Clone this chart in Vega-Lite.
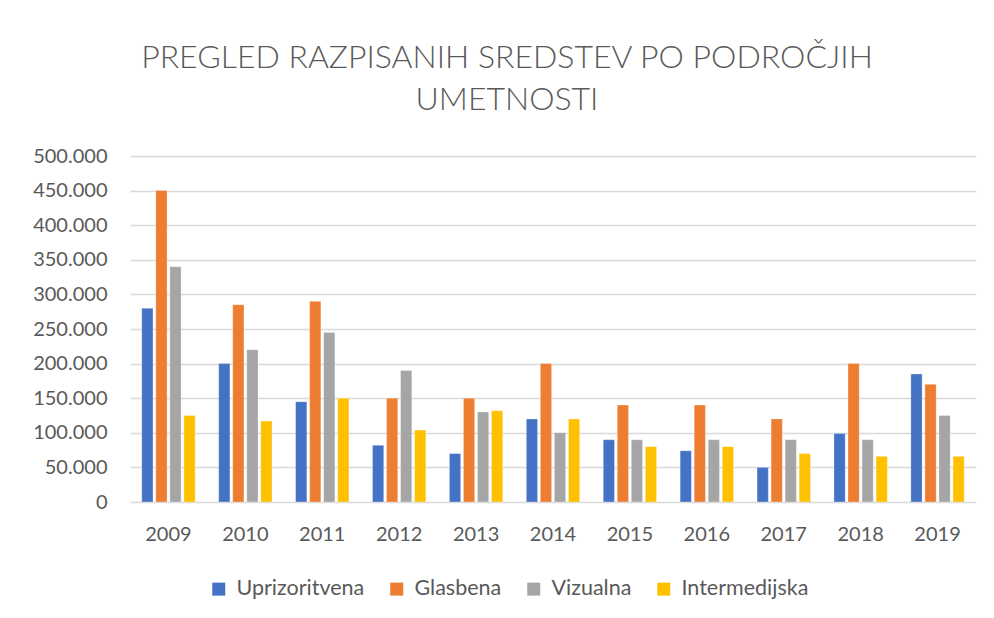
{
  "$schema": "https://vega.github.io/schema/vega-lite/v6.json",
  "width": 846,
  "height": 346,
  "autosize": {"type": "none"},
  "padding": {"left": 130, "top": 156, "right": 18, "bottom": 116},
  "background": "white",
  "config": {
    "locale": {"number": {"decimal": ",", "thousands": ".", "grouping": [3], "currency": ["", " €"]}},
    "font": "Lato",
    "view": {"stroke": null},
    "axis": {"labelColor": "#595959", "labelFont": "Lato", "labelFontSize": 20, "domain": false, "ticks": false}
  },
  "title": {
    "text": ["PREGLED RAZPISANIH SREDSTEV PO PODROČJIH", "UMETNOSTI"],
    "font": "Lato",
    "fontSize": 32,
    "fontWeight": 300,
    "color": "#595959",
    "anchor": "middle",
    "dx": -46,
    "lineHeight": 42,
    "offset": 29
  },
  "data": {
    "values": [
      {"year": "2009", "cat": "Uprizoritvena", "v": 280000},
      {"year": "2009", "cat": "Glasbena", "v": 450000},
      {"year": "2009", "cat": "Vizualna", "v": 340000},
      {"year": "2009", "cat": "Intermedijska", "v": 125000},
      {"year": "2010", "cat": "Uprizoritvena", "v": 200000},
      {"year": "2010", "cat": "Glasbena", "v": 285000},
      {"year": "2010", "cat": "Vizualna", "v": 220000},
      {"year": "2010", "cat": "Intermedijska", "v": 117000},
      {"year": "2011", "cat": "Uprizoritvena", "v": 145000},
      {"year": "2011", "cat": "Glasbena", "v": 290000},
      {"year": "2011", "cat": "Vizualna", "v": 245000},
      {"year": "2011", "cat": "Intermedijska", "v": 150000},
      {"year": "2012", "cat": "Uprizoritvena", "v": 82000},
      {"year": "2012", "cat": "Glasbena", "v": 150000},
      {"year": "2012", "cat": "Vizualna", "v": 190000},
      {"year": "2012", "cat": "Intermedijska", "v": 104000},
      {"year": "2013", "cat": "Uprizoritvena", "v": 70000},
      {"year": "2013", "cat": "Glasbena", "v": 150000},
      {"year": "2013", "cat": "Vizualna", "v": 130000},
      {"year": "2013", "cat": "Intermedijska", "v": 132000},
      {"year": "2014", "cat": "Uprizoritvena", "v": 120000},
      {"year": "2014", "cat": "Glasbena", "v": 200000},
      {"year": "2014", "cat": "Vizualna", "v": 100000},
      {"year": "2014", "cat": "Intermedijska", "v": 120000},
      {"year": "2015", "cat": "Uprizoritvena", "v": 90000},
      {"year": "2015", "cat": "Glasbena", "v": 140000},
      {"year": "2015", "cat": "Vizualna", "v": 90000},
      {"year": "2015", "cat": "Intermedijska", "v": 80000},
      {"year": "2016", "cat": "Uprizoritvena", "v": 74000},
      {"year": "2016", "cat": "Glasbena", "v": 140000},
      {"year": "2016", "cat": "Vizualna", "v": 90000},
      {"year": "2016", "cat": "Intermedijska", "v": 80000},
      {"year": "2017", "cat": "Uprizoritvena", "v": 50000},
      {"year": "2017", "cat": "Glasbena", "v": 120000},
      {"year": "2017", "cat": "Vizualna", "v": 90000},
      {"year": "2017", "cat": "Intermedijska", "v": 70000},
      {"year": "2018", "cat": "Uprizoritvena", "v": 99000},
      {"year": "2018", "cat": "Glasbena", "v": 200000},
      {"year": "2018", "cat": "Vizualna", "v": 90000},
      {"year": "2018", "cat": "Intermedijska", "v": 66000},
      {"year": "2019", "cat": "Uprizoritvena", "v": 185000},
      {"year": "2019", "cat": "Glasbena", "v": 170000},
      {"year": "2019", "cat": "Vizualna", "v": 125000},
      {"year": "2019", "cat": "Intermedijska", "v": 66000}
    ]
  },
  "mark": {"type": "bar", "stroke": "white", "strokeWidth": 0.5, "strokeOpacity": 0.6},
  "encoding": {
    "x": {
      "field": "year",
      "type": "nominal",
      "scale": {"paddingInner": 0.27, "paddingOuter": 0.135},
      "axis": {"title": null, "labelAngle": 0, "labelPadding": 22, "grid": false}
    },
    "xOffset": {
      "field": "cat",
      "type": "nominal",
      "sort": ["Uprizoritvena", "Glasbena", "Vizualna", "Intermedijska"],
      "scale": {"paddingInner": 0.2, "paddingOuter": 0.1}
    },
    "y": {
      "field": "v",
      "type": "quantitative",
      "scale": {"domain": [0, 500000], "nice": false},
      "axis": {
        "title": null,
        "values": [0, 50000, 100000, 150000, 200000, 250000, 300000, 350000, 400000, 450000, 500000],
        "format": ",d",
        "labelPadding": 23,
        "gridColor": "#d9d9d9",
        "gridWidth": 1.5
      }
    },
    "color": {
      "field": "cat",
      "type": "nominal",
      "sort": ["Uprizoritvena", "Glasbena", "Vizualna", "Intermedijska"],
      "scale": {
        "domain": ["Uprizoritvena", "Glasbena", "Vizualna", "Intermedijska"],
        "range": ["#4472c4", "#ed7d31", "#a5a5a5", "#ffc000"]
      },
      "legend": {
        "title": null,
        "orient": "none",
        "direction": "horizontal",
        "legendX": 78,
        "legendY": 422,
        "symbolType": "square",
        "symbolSize": 169,
        "symbolStrokeWidth": 0,
        "symbolOpacity": 1,
        "labelFontSize": 21.5,
        "labelColor": "#595959",
        "labelFont": "Lato",
        "labelOffset": 7,
        "columnPadding": 21
      }
    }
  }
}
